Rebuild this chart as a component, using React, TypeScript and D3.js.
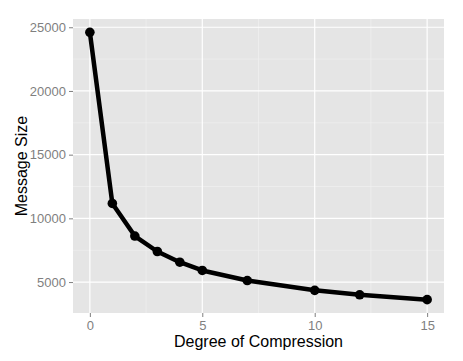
import React, { useEffect, useRef } from 'react'
import * as d3 from 'd3'

const compression = [0, 1, 2, 3, 4, 5, 7, 10, 12, 15]
const messageSize = [24600, 11170, 8610, 7400, 6560, 5910, 5120, 4350, 4000, 3620]
const xTicks = [0, 5, 10, 15]
const yTicks = [5000, 10000, 15000, 20000, 25000]
const xMinor = [2.5, 7.5, 12.5]
const yMinor = [7500, 12500, 17500, 22500]

const width = 463
const height = 361

export default function App() {
    const ref = useRef<SVGSVGElement>(null)
    const margin = { top: 19, right: 19, bottom: 48, left: 73 }

    useEffect(() => {
        const innerWidth = width - margin.left - margin.right
        const innerHeight = height - margin.top - margin.bottom

        // ggplot style 5% expansion
        const xExt = d3.extent(compression) as [number, number]
        const yExt = d3.extent(messageSize) as [number, number]
        const xPad = (xExt[1] - xExt[0]) * 0.05
        const yPad = (yExt[1] - yExt[0]) * 0.05

        const x = d3.scaleLinear()
            .domain([xExt[0] - xPad, xExt[1] + xPad])
            .range([0, innerWidth])
        const y = d3.scaleLinear()
            .domain([yExt[0] - yPad, yExt[1] + yPad])
            .range([innerHeight, 0])

        const root = d3.select(ref.current)
        root.selectAll('*').remove()
        const svg = root.append('g')
            .attr('transform', `translate(${margin.left},${margin.top})`)

        svg.append('rect')
            .attr('width', innerWidth)
            .attr('height', innerHeight)
            .attr('fill', '#E5E5E5')

        // minor grid
        svg.selectAll('.xminor').data(xMinor).enter().append('line')
            .attr('x1', d => x(d)).attr('x2', d => x(d))
            .attr('y1', 0).attr('y2', innerHeight)
            .attr('stroke', '#F2F2F2').attr('stroke-width', 0.6)
        svg.selectAll('.yminor').data(yMinor).enter().append('line')
            .attr('y1', d => y(d)).attr('y2', d => y(d))
            .attr('x1', 0).attr('x2', innerWidth)
            .attr('stroke', '#F2F2F2').attr('stroke-width', 0.6)

        // major grid
        svg.selectAll('.xmajor').data(xTicks).enter().append('line')
            .attr('x1', d => x(d)).attr('x2', d => x(d))
            .attr('y1', 0).attr('y2', innerHeight)
            .attr('stroke', '#FFFFFF').attr('stroke-width', 1.2)
        svg.selectAll('.ymajor').data(yTicks).enter().append('line')
            .attr('y1', d => y(d)).attr('y2', d => y(d))
            .attr('x1', 0).attr('x2', innerWidth)
            .attr('stroke', '#FFFFFF').attr('stroke-width', 1.2)

        // axes
        const xAxis = svg.append('g')
            .attr('transform', `translate(0,${innerHeight})`)
            .call(d3.axisBottom(x).tickValues(xTicks).tickSize(4).tickPadding(4).tickFormat(d3.format('d')))
        const yAxis = svg.append('g')
            .call(d3.axisLeft(y).tickValues(yTicks).tickSize(4).tickPadding(3).tickFormat(d3.format('d')))
        for (const ax of [xAxis, yAxis]) {
            ax.select('.domain').remove()
            ax.selectAll('line').attr('stroke', '#7F7F7F')
            ax.selectAll('text')
                .attr('fill', '#7F7F7F')
                .style('font-family', '"Liberation Sans", Arial, sans-serif')
                .style('font-size', '13px')
        }

        // line + points
        const pts = compression.map((c, i) => [c, messageSize[i]] as [number, number])
        const line = d3.line<[number, number]>().x(d => x(d[0])).y(d => y(d[1]))
        svg.append('path')
            .datum(pts)
            .attr('d', line)
            .attr('fill', 'none')
            .attr('stroke', '#000')
            .attr('stroke-width', 4.5)
            .attr('stroke-linejoin', 'round')
        svg.selectAll('.pt').data(pts).enter().append('circle')
            .attr('cx', d => x(d[0]))
            .attr('cy', d => y(d[1]))
            .attr('r', 4.8)
            .attr('fill', '#000')

        // titles
        root.append('text')
            .attr('x', margin.left + innerWidth / 2)
            .attr('y', 347)
            .attr('text-anchor', 'middle')
            .style('font-family', '"Liberation Sans", Arial, sans-serif')
            .style('font-size', '16px')
            .attr('fill', '#000')
            .text('Degree of Compression')
        root.append('text')
            .attr('transform', `translate(27,${margin.top + innerHeight / 2}) rotate(-90)`)
            .attr('text-anchor', 'middle')
            .style('font-family', '"Liberation Sans", Arial, sans-serif')
            .style('font-size', '16px')
            .attr('fill', '#000')
            .text('Message Size')
    }, [])

    return (
        <svg ref={ref} width={width} height={height}
            style={{ position: 'absolute', left: 0, top: 0, background: '#fff' }}></svg>
    )
}
